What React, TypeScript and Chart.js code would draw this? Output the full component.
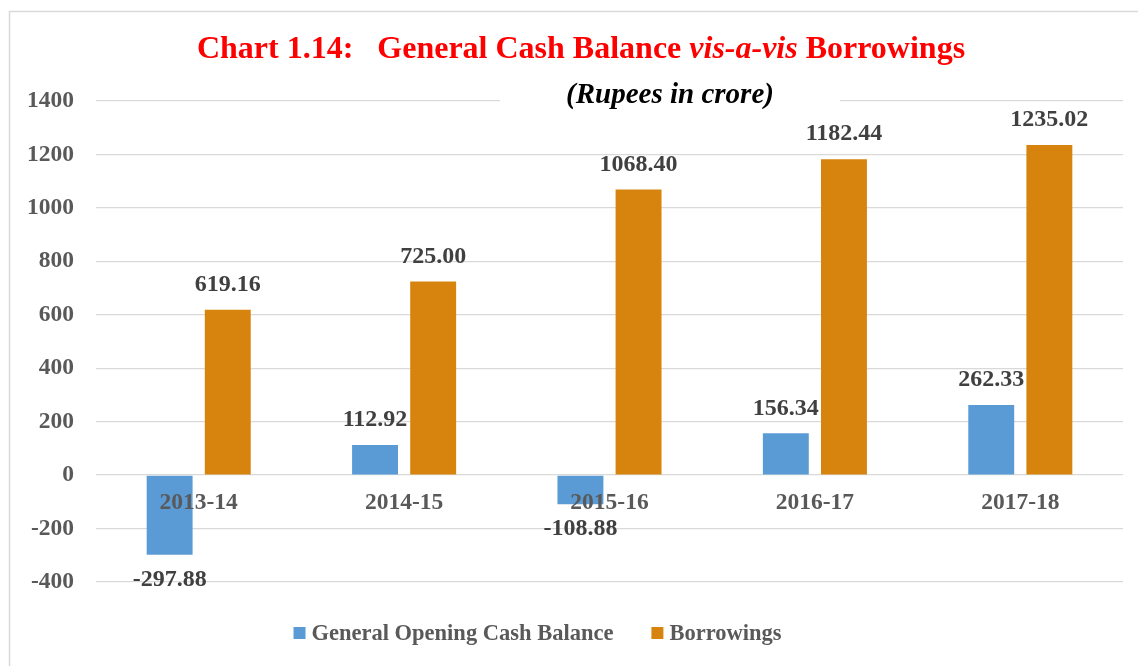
import React, { useEffect, useRef } from "react";
import { Chart, registerables } from "chart.js";

Chart.register(...registerables);

const categories = ["2013-14", "2014-15", "2015-16", "2016-17", "2017-18"];
const openingCashBalance = [-297.88, 112.92, -108.88, 156.34, 262.33];
const borrowings = [619.16, 725.0, 1068.4, 1182.44, 1235.02];
const seriesNames = ["General Opening Cash Balance", "Borrowings"];
const seriesColors = ["#5B9BD5", "#D6840E"];
const yMin = -400;
const yMax = 1400;
const yStep = 200;

const SERIF = '"Liberation Serif", "Times New Roman", serif';

const decorPlugin = {
  id: "decor",
  beforeDraw(chart: any) {
    const { ctx, width, height } = chart;
    ctx.save();
    ctx.fillStyle = "#FFFFFF";
    ctx.fillRect(0, 0, width, height);
    ctx.strokeStyle = "#D9D9D9";
    ctx.lineWidth = 1.5;
    ctx.strokeRect(9.5, 11.5, width + 20, height + 20);
    ctx.restore();
  },
  afterDatasetsDraw(chart: any) {
    const { ctx } = chart;
    const yScale = chart.scales.y;
    const xScale = chart.scales.x;
    ctx.save();
    ctx.textAlign = "center";
    ctx.textBaseline = "middle";
    // data labels
    ctx.font = `bold 24px ${SERIF}`;
    ctx.fillStyle = "#404040";
    chart.data.datasets.forEach((ds: any, di: number) => {
      const meta = chart.getDatasetMeta(di);
      meta.data.forEach((el: any, i: number) => {
        const v = ds.data[i] as number;
        const y = v >= 0 ? el.y - 25 : el.y + 25;
        ctx.fillText(v.toFixed(2), el.x, y);
      });
    });
    // category labels just below zero line
    const zeroY = yScale.getPixelForValue(0);
    ctx.font = `bold 23.5px ${SERIF}`;
    ctx.fillStyle = "#595959";
    categories.forEach((c, i) => {
      ctx.fillText(c, xScale.getPixelForValue(i), zeroY + 28);
    });
    ctx.restore();
  },
  afterDraw(chart: any) {
    const { ctx } = chart;
    ctx.save();
    ctx.textBaseline = "middle";
    ctx.textAlign = "left";
    // title with mixed styles
    const segs = [
      { t: "Chart 1.14:   General Cash Balance ", f: `bold 32px ${SERIF}` },
      { t: "vis-a-vis", f: `italic bold 32px ${SERIF}` },
      { t: " Borrowings", f: `bold 32px ${SERIF}` },
    ];
    let total = 0;
    segs.forEach((s) => {
      ctx.font = s.f;
      total += ctx.measureText(s.t).width;
    });
    let x = 581 - total / 2;
    ctx.fillStyle = "#FF0000";
    segs.forEach((s) => {
      ctx.font = s.f;
      ctx.fillText(s.t, x, 50);
      x += ctx.measureText(s.t).width;
    });
    // subtitle with white background over the gridline
    ctx.fillStyle = "#FFFFFF";
    ctx.fillRect(500, 82, 340, 32);
    ctx.font = `italic bold 29px ${SERIF}`;
    ctx.fillStyle = "#000000";
    ctx.textAlign = "center";
    ctx.fillText("(Rupees in crore)", 670, 96);
    // legend
    ctx.textAlign = "left";
    ctx.font = `bold 22.5px ${SERIF}`;
    const box = 12;
    const gapBoxText = 6;
    const gapItems = 38;
    const widths = seriesNames.map((n) => ctx.measureText(n).width);
    const legendW =
      widths.reduce((a, b) => a + b, 0) + seriesNames.length * (box + gapBoxText) + gapItems * (seriesNames.length - 1);
    let lx = 537.5 - legendW / 2;
    const ly = 633;
    seriesNames.forEach((n, i) => {
      ctx.fillStyle = seriesColors[i];
      ctx.fillRect(lx, ly - box / 2, box, box);
      lx += box + gapBoxText;
      ctx.fillStyle = "#595959";
      ctx.fillText(n, lx, ly + 1);
      lx += widths[i] + gapItems;
    });
    ctx.restore();
  },
};

export default function App() {
  const canvasRef = useRef<HTMLCanvasElement | null>(null);

  useEffect(() => {
    if (!canvasRef.current) return;
    const chart = new Chart(canvasRef.current, {
      type: "bar",
      data: {
        labels: categories,
        datasets: [
          {
            label: seriesNames[0],
            data: openingCashBalance,
            backgroundColor: seriesColors[0],
            categoryPercentage: 0.566,
            barPercentage: 0.79,
          },
          {
            label: seriesNames[1],
            data: borrowings,
            backgroundColor: seriesColors[1],
            categoryPercentage: 0.566,
            barPercentage: 0.79,
          },
        ],
      },
      options: {
        responsive: false,
        animation: false,
        devicePixelRatio: 1,
        layout: { padding: { top: 101, right: 15, bottom: 84, left: 0 } },
        plugins: {
          legend: { display: false },
          title: { display: false },
          tooltip: { enabled: false },
        },
        scales: {
          x: {
            display: false,
            grid: { display: false },
          },
          y: {
            min: yMin,
            max: yMax,
            ticks: {
              stepSize: yStep,
              padding: 22,
              color: "#595959",
              font: { family: SERIF, size: 23.5, weight: "bold" },
              callback: (v: any) => String(v),
            },
            grid: { color: "#D9D9D9", lineWidth: 1.3, drawTicks: false },
            border: { display: false },
            afterFit: (scale: any) => {
              scale.width = 96;
            },
          },
        },
      },
      plugins: [decorPlugin],
    } as any);
    return () => chart.destroy();
  }, []);

  return (
    <div style={{ position: "absolute", left: 0, top: 0, width: 1138, height: 666 }}>
      <canvas ref={canvasRef} width={1138} height={666} style={{ display: "block" }} />
    </div>
  );
}
